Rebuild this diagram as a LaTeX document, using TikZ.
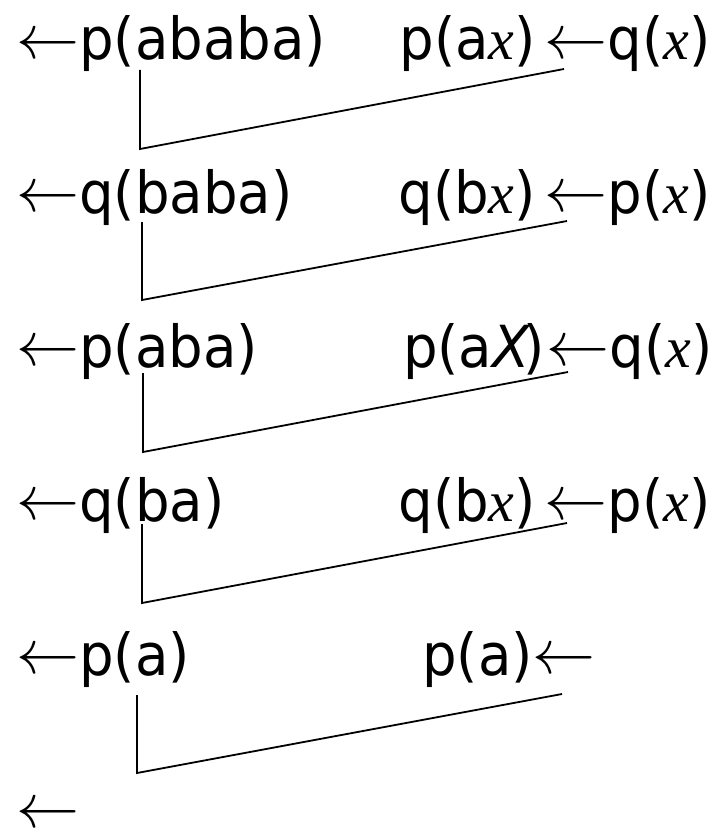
\documentclass[tikz,border=0pt]{standalone}
\usepackage{fontspec}
\usepackage{graphicx}
\setmainfont{DejaVu Sans}[FakeStretch=0.94]
\newfontfamily\serfont{Liberation Serif}
\newcommand\la{\raisebox{1.3pt}{\scalebox{6.3}{\fontsize{10}{12}\selectfont$\leftarrow$}}}
\newcommand\vx{{\serfont\itshape x}}
\newcommand\vX{{\itshape X}}
\begin{document}
\begin{tikzpicture}[x=1pt,y=-1pt,
  txt/.style={inner sep=0pt, font=\fontsize{58}{60}\selectfont},
  link/.style={line width=1.8pt, line join=miter}]
\useasboundingbox (0,0) rectangle (719,829);
% left column
\node[txt,anchor=base west] (l1) at (16,60)  {\la p(ababa)};
\node[txt,anchor=base west] (l2) at (16,213) {\la q(baba)};
\node[txt,anchor=base west] (l3) at (16,367) {\la p(aba)};
\node[txt,anchor=base west] (l4) at (16,521) {\la q(ba)};
\node[txt,anchor=base west] (l5) at (16,675) {\la p(a)};
\node[txt,anchor=base west] (l6) at (16,829) {\la};
% right column
\node[txt,anchor=base east] (r1) at (711,60)  {p(a\vx)\kern9pt\la q(\vx)};
\node[txt,anchor=base east] (r2) at (711,213) {q(b\vx)\kern9pt\la p(\vx)};
\node[txt,anchor=base east] (r3) at (713,367) {p(a\vX\kern-6pt)\kern2pt\la q(\vx)};
\node[txt,anchor=base east] (r4) at (711,521) {q(b\vx)\kern9pt\la p(\vx)};
\node[txt,anchor=base east] (r5) at (596,675) {p(a)\la};
% connectors
\coordinate (a1) at (140,70);  \coordinate (c1) at (140,149); \coordinate (b1) at (564,69);
\coordinate (a2) at (142,222); \coordinate (c2) at (142,300); \coordinate (b2) at (567,221);
\coordinate (a3) at (143,373); \coordinate (c3) at (143,452); \coordinate (b3) at (568,372);
\coordinate (a4) at (142,524); \coordinate (c4) at (142,603); \coordinate (b4) at (567,523);
\coordinate (a5) at (137,695); \coordinate (c5) at (137,773); \coordinate (b5) at (562,694);
\foreach \i in {1,...,5} \draw[link] (a\i) -- (c\i) -- (b\i);
\end{tikzpicture}
\end{document}
